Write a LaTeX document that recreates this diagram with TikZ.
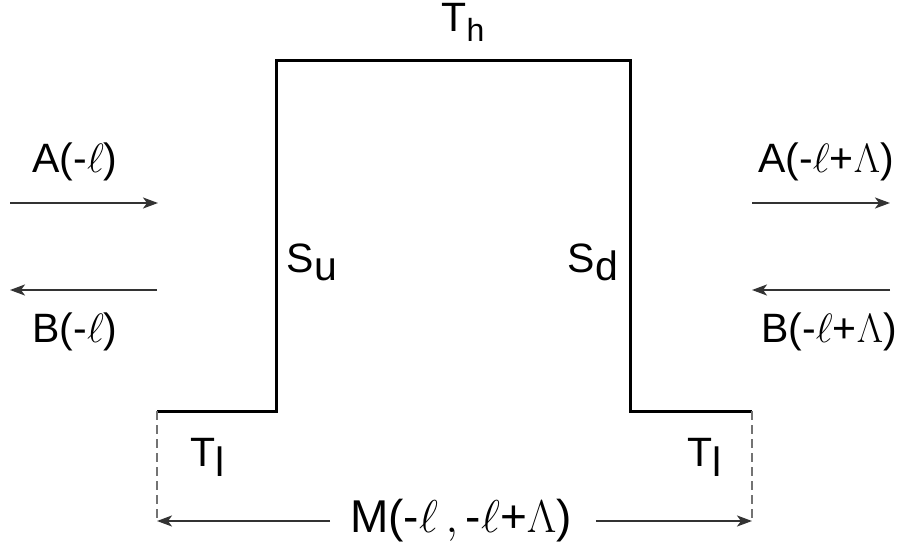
\RequirePackage{fix-cm}
\documentclass[tikz,border=0pt]{standalone}
\usepackage{fontspec}
\setmainfont{Liberation Sans}
\usetikzlibrary{arrows.meta}
\newcommand{\sbs}[2][9pt]{\raisebox{-#1}{#2}}
\tikzset{
  prof/.style={line width=3pt, line join=miter},
  arr/.style={line width=2.2pt, draw=black!80, -{Stealth[length=15pt,width=11pt,inset=4pt]}},
  dsh/.style={line width=1.5pt, draw=black!55, dash pattern=on 9pt off 5pt},
  lbl/.style={font=\fontsize{41}{48}\selectfont, inner sep=0pt, anchor=center}
}
\begin{document}
\begin{tikzpicture}[x=1pt,y=-1pt]
\useasboundingbox (0,0) rectangle (906,552);
% profile corners
\coordinate (p1) at (157,411);
\coordinate (p2) at (276,411);
\coordinate (p3) at (276,60);
\coordinate (p4) at (630,60);
\coordinate (p5) at (630,411);
\coordinate (p6) at (752,411);
\coordinate (q1) at (157,521);
\coordinate (q2) at (752,521);
\draw[prof] (p1) -- (p2) -- (p3) -- (p4) -- (p5) -- (p6);
\draw[dsh] (p1) -- (q1);
\draw[dsh] (p6) -- (q2);
% side arrows
\coordinate (al0) at (10,203);  \coordinate (al1) at (158,203);
\coordinate (bl0) at (157,290); \coordinate (bl1) at (10,290);
\coordinate (ar0) at (752,203); \coordinate (ar1) at (890,203);
\coordinate (br0) at (890,290); \coordinate (br1) at (752,290);
\draw[arr] (al0) -- (al1);
\draw[arr] (bl0) -- (bl1);
\draw[arr] (ar0) -- (ar1);
\draw[arr] (br0) -- (br1);
% labels
\node[lbl] (Al) at (75,162) {A(-$\ell$)};
\node[lbl] (Bl) at (75,332) {B(-$\ell$)};
\node[lbl] (Ar) at (826,162) {A(-$\ell$+$\Lambda$)};
\node[lbl] (Br) at (829,332) {B(-$\ell$+$\Lambda$)};
\node[lbl] (Th) at (463,22) {T\sbs[10pt]{\fontsize{32}{32}\selectfont h}};
\node[lbl] (Su) at (312,262) {S\sbs[8pt]{u}};
\node[lbl] (Sd) at (593,262) {S\sbs[8pt]{d}};
\node[lbl] (Tl1) at (208,457) {T\sbs[10pt]{l}};
\node[lbl] (Tl2) at (705,457) {T\sbs[10pt]{l}};
\node[lbl, font=\fontsize{46}{52}\selectfont] (M) at (461,521) {M(-$\ell\,,\,$-$\ell$+$\Lambda$)};
\draw[arr] (M.west) ++(-20,0) -- (q1);
\draw[arr] (M.east) ++(24,0) -- (q2);
\end{tikzpicture}
\end{document}
